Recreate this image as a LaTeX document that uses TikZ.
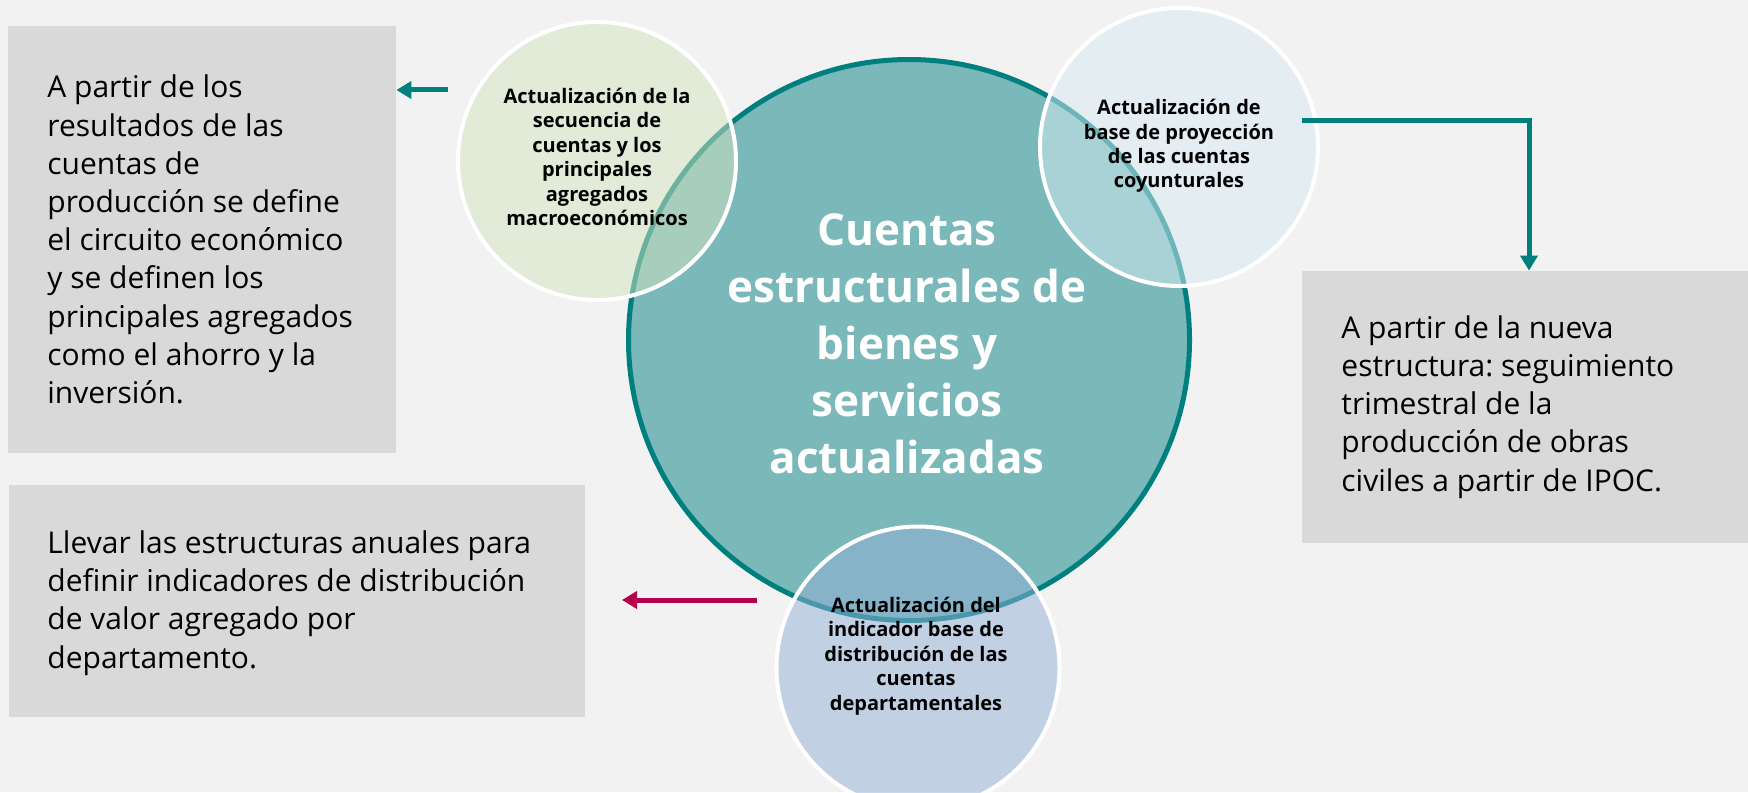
\documentclass[tikz,border=0pt]{standalone}
\usepackage{fontspec}
\setmainfont{Open Sans}
\usetikzlibrary{arrows.meta}
\frenchspacing
\definecolor{bgc}{HTML}{F2F2F2}
\definecolor{boxc}{HTML}{D9D9D9}
\definecolor{tealc}{HTML}{007F7F}
\definecolor{bigc}{HTML}{7BB8BA}
\definecolor{greenc}{HTML}{D4E4BF}
\definecolor{bluec}{HTML}{D8ECF2}
\definecolor{navyc}{HTML}{94B0D8}
\definecolor{redc}{HTML}{B5004B}
\tikzset{
  textbox/.style={fill=boxc, draw=none, inner sep=0pt},
  boxtext/.style={anchor=west, align=left, inner sep=0pt, font=\fontsize{15}{19.1}\selectfont},
  smallc/.style={circle, inner sep=0pt, minimum size=139pt, draw=white, line width=2pt, fill opacity=0.5},
  smalltext/.style={align=center, inner sep=0pt, font=\bfseries\fontsize{10}{12.2}\selectfont},
  arr/.style={line width=2.5pt, -{Triangle[length=7.5pt,width=8.5pt]}},
}
\begin{document}
\begin{tikzpicture}[x=0.5pt,y=-0.5pt]
\fill[bgc] (0,0) rectangle (1748,792);
\useasboundingbox (0,0) rectangle (1748,792);
% boxes
\node[textbox, minimum width=194pt, minimum height=213.5pt] (box1) at (202,239.5) {};
\node[textbox, minimum width=288pt, minimum height=116pt] (box2) at (297,601) {};
\node[textbox, minimum width=223pt, minimum height=136pt] (box3) at (1525,407) {};
\node[boxtext] (t1) at (47,239.5) {A partir de los\\resultados de las\\cuentas de\\producción se define\\el circuito económico\\y se definen los\\principales agregados\\como el ahorro y la\\inversión.};
\node[boxtext] (t2) at (47,603) {Llevar las estructuras anuales para\\definir indicadores de distribución\\de valor agregado por\\departamento.};
\node[boxtext] (t3) at (1341,407) {A partir de la nueva\\estructura: seguimiento\\trimestral de la\\producción de obras\\civiles a partir de IPOC.};
% big circle
\node[circle, inner sep=0pt, minimum size=280.5pt, fill=bigc, draw=tealc, line width=2.5pt] (big) at (909,340) {};
\node[align=center, text=white, inner sep=0pt, font=\bfseries\fontsize{22}{28.5}\selectfont] (bigt) at (907,344) {Cuentas\\estructurales de\\bienes y\\servicios\\actualizadas};
% small circles
\node[smallc, fill=greenc] (c1) at (597,161) {};
\node[smallc, fill=bluec] (c2) at (1179,147) {};
\node[smallc, fill=navyc, minimum size=141.5pt] (c3) at (918,668) {};
\node[smalltext] (c1t) at (597,157) {Actualización de la\\secuencia de\\cuentas y los\\principales\\agregados\\macroeconómicos};
\node[smalltext] (c2t) at (1179,146) {Actualización de\\base de proyección\\de las cuentas\\coyunturales};
\node[smalltext] (c3t) at (916,656) {Actualización del\\indicador base de\\distribución de las\\cuentas\\departamentales};
% arrows
\coordinate (a1s) at (448,90);
\draw[arr, tealc] (a1s) -- (box1.east |- a1s);
\coordinate (a2s) at (1302,120);
\coordinate (a2c) at (1529,120);
\draw[arr, tealc] (a2s) -- (a2c) -- (a2c |- box3.north);
\coordinate (a3s) at (757,600);
\coordinate (a3e) at (622,600);
\draw[arr, redc] (a3s) -- (a3e);
\end{tikzpicture}
\end{document}
